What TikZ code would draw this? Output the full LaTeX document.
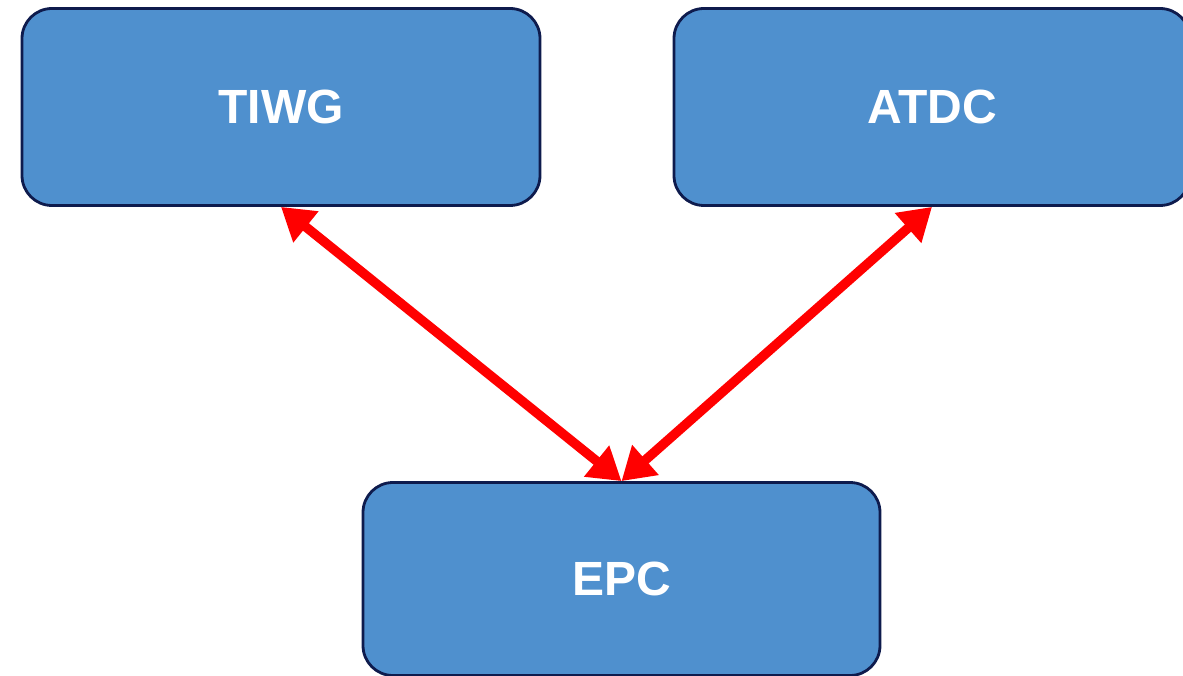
\documentclass[tikz,border=0pt]{standalone}
\usepackage{fontspec}
\setmainfont{Liberation Sans}
\usetikzlibrary{arrows.meta}
\definecolor{boxfill}{RGB}{79,144,206}
\definecolor{boxline}{RGB}{14,27,77}
\tikzset{
  orgbox/.style={draw=boxline, line width=2.8pt, fill=boxfill, rounded corners=30pt,
    text=white, font=\fontsize{48}{52}\selectfont\bfseries, inner sep=0pt},
  link/.style={draw=red, line width=9.5pt,
    {Triangle[length=32pt,width=38pt]}-{Triangle[length=32pt,width=38pt]}}
}
\begin{document}
\begin{tikzpicture}[x=1pt,y=-1pt]
\useasboundingbox (0,0) rectangle (1183,676);
\node[orgbox, minimum width=518pt, minimum height=197pt] (tiwg) at (281,107) {TIWG};
\node[orgbox, minimum width=516pt, minimum height=197pt] (atdc) at (932,107) {ATDC};
\node[orgbox, minimum width=517pt, minimum height=193pt] (epc) at (621.5,579) {EPC};
\draw[link] (tiwg.south) -- (epc.north);
\draw[link] (atdc.south) -- (epc.north);
\end{tikzpicture}
\end{document}
